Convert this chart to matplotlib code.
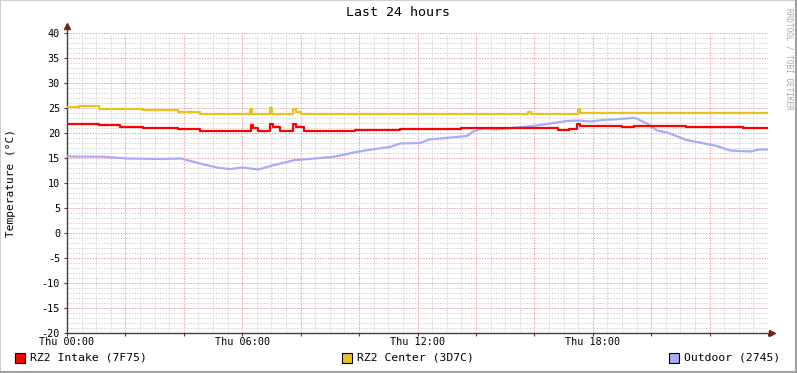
import matplotlib
matplotlib.use("Agg")
import matplotlib.pyplot as plt
from matplotlib.patches import Rectangle
import numpy as np

# ---- data (hours since Thu 00:00, temperature in °C) ----
intake_h = [0, 1.1, 1.8, 2.6, 3.8, 4.55, 6.30, 6.38, 6.55, 6.95, 7.05, 7.3, 7.75, 7.85, 8.1,
            9.85, 11.4, 13.5, 15.5, 16.8, 17.2, 17.45, 17.55, 19.0, 19.4, 21.2, 23.15, 24.0]
intake_v = [21.8, 21.6, 21.2, 21.0, 20.8, 20.5, 21.7, 21.0, 20.5, 21.9, 21.2, 20.5, 21.9, 21.2, 20.5,
            20.7, 20.85, 20.95, 21.0, 20.7, 20.85, 21.9, 21.45, 21.3, 21.45, 21.25, 21.0, 21.0]

center_h = [0, 0.4, 1.1, 2.6, 3.8, 4.55, 5.8, 6.28, 6.35, 6.95, 7.02, 7.75, 7.85, 8.0,
            9.8, 15.8, 15.9, 17.5, 17.55, 18.5, 19.4, 24.0]
center_v = [25.3, 25.4, 24.9, 24.6, 24.3, 23.9, 23.85, 24.8, 23.9, 25.0, 23.8, 24.9, 24.2, 23.8,
            23.8, 24.3, 23.9, 24.8, 24.0, 24.0, 24.1, 24.1]

outdoor_h = [0, 1.3, 2.05, 3.2, 3.9, 4.55, 5.2, 5.6, 6.0, 6.55, 7.1, 7.8, 8.3, 9.2, 9.9, 10.55,
             11.05, 11.4, 12.1, 12.4, 13.7, 13.9, 14.25, 14.7, 15.4, 15.95, 16.55, 17.1, 17.55,
             17.9, 18.35, 18.7, 19.4, 19.5, 19.85, 20.2, 20.55, 20.9, 21.2, 21.65, 22.25, 22.7,
             23.4, 23.7, 24.0]
outdoor_v = [15.3, 15.25, 14.9, 14.8, 14.9, 13.9, 13.0, 12.8, 13.1, 12.7, 13.6, 14.6, 14.8, 15.3,
             16.2, 16.8, 17.2, 17.9, 18.0, 18.7, 19.4, 20.3, 20.9, 20.7, 21.1, 21.4, 21.9, 22.4,
             22.5, 22.3, 22.6, 22.7, 23.0, 22.9, 21.9, 20.5, 20.1, 19.3, 18.6, 18.1, 17.4, 16.5,
             16.3, 16.7, 16.7]

xtick_pos = [0, 6, 12, 18]
xtick_labels = ["Thu 00:00", "Thu 06:00", "Thu 12:00", "Thu 18:00"]
legend_labels = ["RZ2 Intake (7F75)", "RZ2 Center (3D7C)", "Outdoor (2745)"]

# ---- style ----
RED = "#FF0000"
YEL = "#E8C21E"
PUR = "#AAAAF8"
MONO = "DejaVu Sans Mono"

W, H = 797, 373
fig = plt.figure(figsize=(W / 100, H / 100), dpi=100)
fig.patch.set_facecolor("white")

# border (3D frame like rrdtool)
fig.add_artist(Rectangle((0, 0), 1, 1, transform=fig.transFigure, fill=False,
                         edgecolor="#CFCFCF", linewidth=1.5))
fig.add_artist(plt.Line2D([1 - 1.5 / W, 1 - 1.5 / W], [0, 1], transform=fig.transFigure,
                          color="#A0A0A0", linewidth=2.2))
fig.add_artist(plt.Line2D([0, 1], [1.5 / H, 1.5 / H], transform=fig.transFigure,
                          color="#A0A0A0", linewidth=2.2))

x0, x1 = 67, 768
y0, y1 = 33, 333
ax = fig.add_axes([x0 / W, 1 - y1 / H, (x1 - x0) / W, (y1 - y0) / H])
ax.set_facecolor("white")
ax.set_xlim(0, 24)
ax.set_ylim(-20, 40)

# grids
minor_style = dict(color="#D4D4D4", linewidth=0.72, linestyle=(0, (1.4, 1.4)))
major_style = dict(color="#E6A0A0", linewidth=0.72, linestyle=(0, (1.4, 1.4)))
for h in np.arange(0.5, 24, 0.5):
    if abs(h / 2 - round(h / 2)) > 1e-6:
        ax.axvline(h, zorder=0, **minor_style)
for v in range(-19, 40):
    if v % 5:
        ax.axhline(v, zorder=0, **minor_style)
for h in range(2, 24, 2):
    ax.axvline(h, zorder=0.5, **major_style)
for v in range(-15, 41, 5):
    ax.axhline(v, zorder=0.5, **major_style)

# series
ax.plot(outdoor_h, outdoor_v, color=PUR, linewidth=1.6, zorder=3)
ax.plot(center_h, center_v, color=YEL, linewidth=1.6, drawstyle="steps-post", zorder=3)
ax.plot(intake_h, intake_v, color=RED, linewidth=1.6, drawstyle="steps-post", zorder=4)

# axes
for s in ["top", "right"]:
    ax.spines[s].set_visible(False)
for s in ["left", "bottom"]:
    ax.spines[s].set_color("#404040")
    ax.spines[s].set_linewidth(1.0)
ax.spines["left"].set_bounds(-20, 41.2)
ax.spines["bottom"].set_bounds(0, 24.1)
ax.plot([0], [41.4], marker="^", color="#7A1F1F", markersize=4, clip_on=False, zorder=5)
ax.plot([24.12], [-20], marker=">", color="#7A1F1F", markersize=4, clip_on=False, zorder=5)

ax.set_yticks(range(-20, 41, 5))
ax.set_yticklabels([str(v) for v in range(-20, 41, 5)], fontfamily=MONO, fontsize=7.3)
ax.set_xticks(xtick_pos)
ax.set_xticklabels(xtick_labels, fontfamily=MONO, fontsize=7.3)
ax.set_xticks(range(0, 25, 2), minor=True)
ax.tick_params(axis="both", which="major", length=2, width=0.8, color="#404040", pad=3)
ax.tick_params(axis="x", which="minor", length=2, width=0.8, color="#404040")
ax.tick_params(axis="x", which="major", pad=1)

# texts
fig.text(398 / W, 1 - 13 / H, "Last 24 hours", ha="center", va="center",
         fontfamily=MONO, fontsize=9.5, color="black")
fig.text(11 / W, 1 - 183 / H, "Temperature (°C)", ha="center", va="center", rotation=90,
         fontfamily=MONO, fontsize=8, color="black")
fig.text(789 / W, 1 - 8 / H, "RRDTOOL / TOBI OETIKER", ha="center", va="top", rotation=270,
         fontfamily=MONO, fontsize=5.6, color="#A8A8A8")

# legend
leg_x = [15, 342, 669]
leg_c = [RED, YEL, PUR]
for lx, lc, lt in zip(leg_x, leg_c, legend_labels):
    fig.add_artist(Rectangle((lx / W, 1 - 363 / H), 10 / W, 10 / H, transform=fig.transFigure,
                             facecolor=lc, edgecolor="black", linewidth=0.8))
    fig.text((lx + 15) / W, 1 - 358 / H, lt, ha="left", va="center",
             fontfamily=MONO, fontsize=8.2, color="black")

fig.savefig("out.png", dpi=100, facecolor=fig.get_facecolor())
